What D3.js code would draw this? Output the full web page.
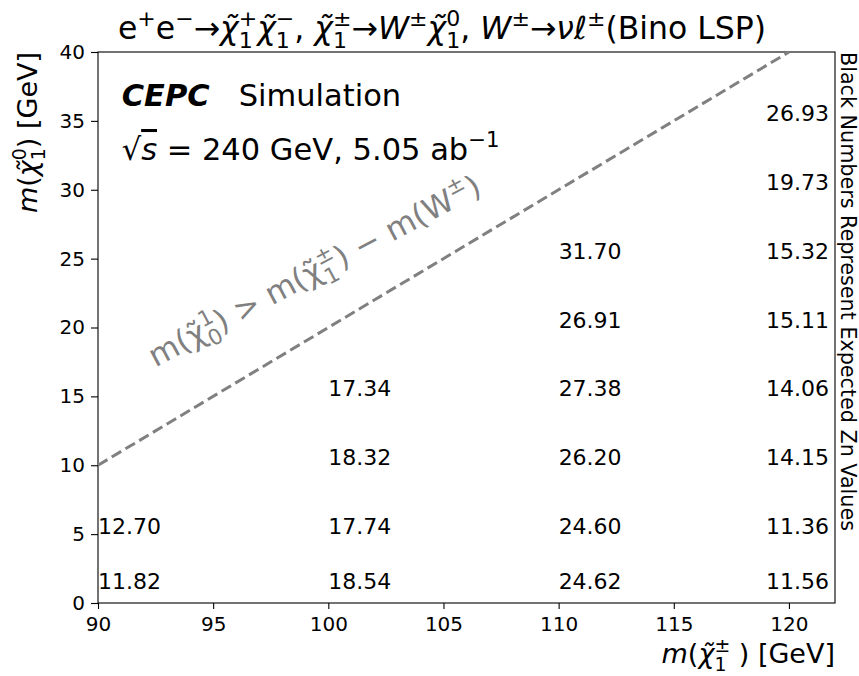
<!DOCTYPE html>
<html>
<head>
<meta charset="utf-8">
<script src="https://cdn.jsdelivr.net/npm/d3@7"></script>
<style>
  body { margin: 0; background: #fff; }
  text { font-family: "DejaVu Sans", sans-serif; }
</style>
</head>
<body>
<div id="chart"></div>
<script>
// mass grid (GeV) and expected Zn values per chargino mass column
const charginoMass = [90, 100, 110, 120];
const neutralinoMass = [1, 5, 10, 15, 20, 25, 30, 35];
const zn90 = [11.82, 12.70];
const zn100 = [18.54, 17.74, 18.32, 17.34];
const zn110 = [24.62, 24.60, 26.20, 27.38, 26.91, 31.70];
const zn120 = [11.56, 11.36, 14.15, 14.06, 15.11, 15.32, 19.73, 26.93];
const xTicks = [90, 95, 100, 105, 110, 115, 120];
const yTicks = [0, 5, 10, 15, 20, 25, 30, 35, 40];
// kinematic boundary m(chi0) = m(chi+-) - m(W)
const boundary = [[90, 10], [120, 40]];

const W = 859, H = 676;
const margin = {top: 52, right: 24, bottom: 73, left: 98},
    width = W - margin.left - margin.right,
    height = H - margin.top - margin.bottom;

const svg = d3.select('#chart')
    .append('svg')
    .attr('width', W)
    .attr('height', H);

const g = svg.append('g')
    .attr('transform', `translate(${margin.left}, ${margin.top})`);

const x = d3.scaleLinear().domain([90, 122]).range([0, width]);
const y = d3.scaleLinear().domain([0, 40]).range([height, 0]);

// writes a matplotlib-ish mathtext string into a <text> as tspans
function mathText(sel, parts, size) {
    sel.style('white-space', 'pre').attr('font-size', size);
    let off = 0, pendDx = 0;
    const seg = (txt, it, to, fs) => {
        const ts = sel.append('tspan')
            .attr('font-size', fs)
            .style('font-style', it ? 'italic' : 'normal')
            .text(txt);
        if (off !== to) ts.attr('dy', off - to);
        if (pendDx) ts.attr('dx', pendDx);
        off = to; pendDx = 0;
        return ts.node().getComputedTextLength();
    };
    parts.forEach(p => {
        if (p.t) seg(p.t, p.it, 0, size);
        const s = size * 0.7;
        if (p.sup && p.sub) {
            const w1 = seg(p.sup, false, size * 0.42, s);
            pendDx = -w1;
            const w2 = seg(p.sub, false, -size * 0.28, s);
            pendDx = Math.max(0, w1 - w2);
        } else if (p.sup) {
            seg(p.sup, false, size * 0.42, s);
        } else if (p.sub) {
            seg(p.sub, false, -size * 0.22, s);
        }
    });
    return sel;
}

const chi = '\u03c7\u0303';

// axes
const xAxis = g.append('g')
    .attr('transform', `translate(0, ${height})`)
    .call(d3.axisBottom(x).tickValues(xTicks).tickSize(6).tickSizeOuter(0).tickPadding(8));
const yAxis = g.append('g')
    .call(d3.axisLeft(y).tickValues(yTicks).tickSize(7).tickSizeOuter(0).tickPadding(6));
[xAxis, yAxis].forEach(a => {
    a.selectAll('text').attr('font-size', 20).attr('fill', '#000')
        .style('font-family', '"DejaVu Sans", sans-serif');
    a.selectAll('line').attr('stroke', '#000').attr('stroke-width', 1.1);
    a.select('.domain').remove();
});

// frame
g.append('rect')
    .attr('width', width)
    .attr('height', height)
    .attr('fill', 'none')
    .attr('stroke', '#000')
    .attr('stroke-width', 1.1);

// boundary line
g.append('path')
    .datum(boundary)
    .attr('d', d3.line().x(d => x(d[0])).y(d => y(d[1])))
    .attr('fill', 'none')
    .attr('stroke', 'grey')
    .attr('stroke-width', 3)
    .attr('stroke-dasharray', '11,5');

// Zn numbers
const cells = [];
[zn90, zn100, zn110, zn120].forEach((col, i) => {
    col.forEach((v, j) => cells.push({mc: charginoMass[i], mn: neutralinoMass[j], zn: v}));
});
g.selectAll('.zn')
    .data(cells)
    .enter()
    .append('text')
    .attr('class', 'zn')
    // last column is pulled 1 GeV left so it stays inside the frame
    .attr('x', d => x(Math.min(d.mc, 119)))
    .attr('y', d => y(d.mn))
    .attr('font-size', 22)
    .attr('fill', '#000')
    .text(d => d3.format('.2f')(d.zn));

// boundary label
const ang = 28;
mathText(g.append('text')
    .attr('transform', `translate(${x(92.5)}, ${y(17.1)}) rotate(${-ang})`)
    .attr('fill', 'grey'),
    [{t: 'm('}, {t: chi, sub: '0', sup: '1'}, {t: ') > m('}, {t: chi, sub: '1', sup: '\u00b1'},
     {t: ') \u2212 m(W', sup: '\u00b1'}, {t: ')'}], 31);

// CEPC header
const hdr = g.append('text')
    .attr('x', 23.7)
    .attr('y', 54)
    .attr('font-size', 30.5)
    .style('white-space', 'pre');
hdr.append('tspan').attr('font-weight', 'bold').style('font-style', 'italic').text('CEPC');
hdr.append('tspan').text('   Simulation');

const lum = g.append('text').attr('x', 23.7).attr('y', 108);
mathText(lum, [{t: '\u221a'}, {t: 's', it: true}, {t: ' = 240 GeV, 5.05 ab', sup: '\u22121'}], 30.5);
lum.select('tspan:nth-child(2)').style('text-decoration', 'overline');

// title
mathText(svg.append('text')
    .attr('x', 442)
    .attr('y', 39)
    .attr('text-anchor', 'middle'),
    [{t: 'e', sup: '+'}, {t: 'e', sup: '\u2212'}, {t: '\u2192'},
     {t: chi, it: true, sub: '1', sup: '+'}, {t: chi, it: true, sub: '1', sup: '\u2212'}, {t: ', '},
     {t: chi, it: true, sub: '1', sup: '\u00b1'}, {t: '\u2192'}, {t: 'W', it: true, sup: '\u00b1'},
     {t: chi, it: true, sub: '1', sup: '0'}, {t: ', '}, {t: 'W', it: true, sup: '\u00b1'}, {t: '\u2192'},
     {t: '\u03bd\u2113', it: true, sup: '\u00b1'}, {t: '(Bino LSP)'}], 31.5);

// axis labels
mathText(svg.append('text')
    .attr('x', margin.left + width)
    .attr('y', 663)
    .attr('text-anchor', 'end'),
    [{t: 'm', it: true}, {t: '('}, {t: chi, it: true, sub: '1', sup: '\u00b1'}, {t: ' ) [GeV]'}], 27);

mathText(svg.append('text')
    .attr('transform', `translate(37, ${margin.top}) rotate(-90)`)
    .attr('text-anchor', 'end'),
    [{t: 'm', it: true}, {t: '('}, {t: chi, it: true, sub: '1', sup: '0'}, {t: ') [GeV]'}], 27);

svg.append('text')
    .attr('transform', `translate(841, ${margin.top}) rotate(90)`)
    .attr('font-size', 20.7)
    .text('Black Numbers Represent Expected Zn Values');
</script>
</body>
</html>
